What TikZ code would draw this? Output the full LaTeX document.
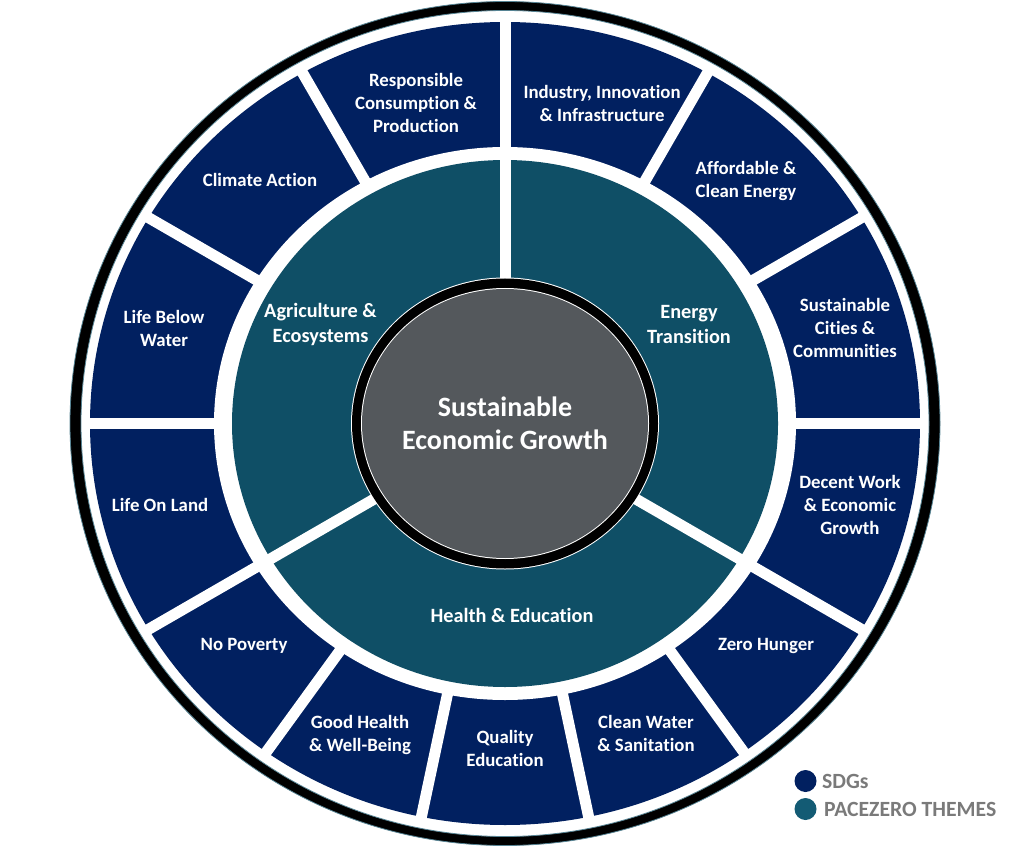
\documentclass[tikz,border=0pt]{standalone}
\usepackage{fontspec}
\setmainfont{Carlito}[Ligatures=NoCommon]
\usetikzlibrary{calc}
\definecolor{sdgblue}{HTML}{012060}
\definecolor{themeteal}{HTML}{0F4F66}
\definecolor{dotteal}{HTML}{135B74}
\definecolor{coregrey}{HTML}{54585C}
\definecolor{legendgrey}{HTML}{7A7A7A}
\tikzset{
  sdglabel/.style={text=white, align=center, inner sep=0pt, font=\bfseries\fontsize{18.8}{23}\selectfont},
  themelabel/.style={sdglabel, font=\bfseries\fontsize{20.3}{25}\selectfont},
  gapline/.style={draw=white, line width=11pt},
  legenddot/.style={circle, minimum size=22pt, inner sep=0pt},
  legendlabel/.style={anchor=west, inner sep=0pt, text=legendgrey, font=\bfseries\fontsize{21.7}{23}\selectfont}
}

\begin{document}
\begin{tikzpicture}[x=1pt, y=1pt]
    \useasboundingbox (0,0) rectangle (1024,847);
    \coordinate (c) at (505,423.5);
    % rings from the outside in
    \fill[black, draw=themeteal!70, line width=.8pt] (c) ellipse [x radius=435pt, y radius=422pt];
    \fill[white, draw=themeteal!70, line width=.8pt] (c) ellipse [x radius=424pt, y radius=413pt];
    \fill[sdgblue] (c) ellipse [x radius=415pt, y radius=401.5pt];
    \fill[white] (c) ellipse [x radius=291pt, y radius=276.5pt];
    \fill[themeteal] (c) ellipse [x radius=273pt, y radius=263.5pt];
    % gaps between the SDG cells
    \begin{scope}
      \clip (c) ellipse [x radius=419pt, y radius=407pt];
      \foreach \a in {90,60,30,0,-30,-54,-78,-102,-126,-150,180,150,120}{
        \draw[gapline] ($(c)+(\a:275pt)$) -- ($(c)+(\a:450pt)$);
      }
    \end{scope}
    % gaps between the themes
    \foreach \a in {90,-30,-150}{
      \draw[gapline] (c) -- ($(c)+(\a:275pt)$);
    }
    % the core
    \fill[white] (c) ellipse [x radius=154pt, y radius=146pt];
    \fill[black] (c) ellipse [x radius=153pt, y radius=145pt];
    \fill[white] (c) ellipse [x radius=144pt, y radius=135.5pt];
    \fill[coregrey] (c) ellipse [x radius=143pt, y radius=134.5pt];
    \node[text=white, align=center, inner sep=0pt, font=\bfseries\fontsize{28}{33}\selectfont] (core) at (505,424) {Sustainable\\Economic Growth};
    % SDG cells
    \foreach \x/\y/\txt [count=\i] in {
      602/744/{Industry, Innovation\\\& Infrastructure},
      746/666/{Affordable \&\\Clean Energy},
      845/519/{Sustainable\\Cities \&\\Communities},
      850/342/{Decent Work\\\& Economic\\Growth},
      766/201/{Zero Hunger},
      646/113.5/{Clean Water\\\& Sanitation},
      505/98.5/{Quality\\Education},
      360/112.5/{Good Health\\\& Well-Being},
      244/201/{No Poverty},
      160/342/{Life On Land},
      164/519/{Life Below\\Water},
      260/667/{Climate Action},
      416/744/{Responsible\\Consumption \&\\Production}}{
      \node[sdglabel] (sdg\i) at (\x,\y) {\txt};
    }
    % themes
    \node[themelabel] (energy) at (689,523) {Energy\\Transition};
    \node[themelabel] (health) at (512,232) {Health \& Education};
    \node[themelabel] (agri) at (320.5,522.5) {Agriculture \&\\Ecosystems};
    % legend
    \node[legenddot, fill=sdgblue] (dotsdg) at (805.5,66) {};
    \node[legenddot, fill=dotteal] (dottheme) at (805.5,38) {};
    \node[legendlabel] (labelsdg) at (822,66) {SDGs};
    \node[legendlabel] (labeltheme) at (824,38) {PACEZERO THEMES};
  \end{tikzpicture}
\end{document}
